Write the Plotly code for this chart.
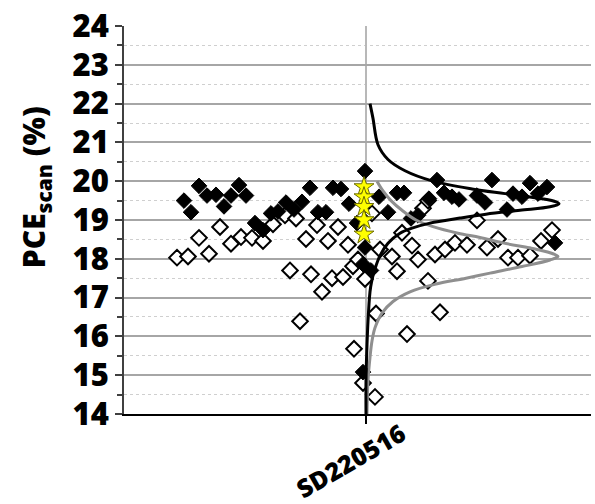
import plotly.graph_objects as go

# Sample label on the category axis
category = "SD220516"

# Horizontal jitter of each cell (offset from the category centre) and PCE values (%)
filled_x = [-1.82, -1.75, -1.67, -1.59, -1.50, -1.42, -1.35, -1.27, -1.20, -1.11,
            -1.03, -0.95, -0.88, -0.80, -0.72, -0.64, -0.56, -0.48, -0.40, -0.33,
            -0.25, -0.17, -0.09, -0.01, -0.01, 0.05, -0.03, -0.03, 0.13, 0.22,
            0.31, 0.38, 0.45, 0.52, 0.63, 0.71, 0.78, 0.86, 0.93, 1.11,
            1.19, 1.26, 1.41, 1.47, 1.56, 1.64, 1.72, 1.81, 1.89]
filled_pce = [19.50, 19.20, 19.88, 19.63, 19.65, 19.35, 19.63, 19.90, 19.63, 18.92,
              18.74, 19.17, 19.22, 19.45, 19.27, 19.47, 19.83, 19.20, 19.20, 19.83,
              19.80, 19.42, 18.92, 20.26, 18.29, 17.70, 15.08, 17.86, 19.60, 19.20,
              19.70, 19.70, 19.04, 19.12, 19.55, 20.03, 19.70, 19.60, 19.53, 19.63,
              19.45, 20.03, 19.27, 19.68, 19.60, 19.95, 19.68, 19.85, 18.41]

open_x = [-1.89, -1.78, -1.67, -1.57, -1.46, -1.35, -1.25, -1.14, -1.03, -0.93,
          -0.81, -0.70, -0.76, -0.60, -0.55, -0.49, -0.44, -0.38, -0.34, -0.28,
          -0.23, -0.18, -0.13, -0.08, -0.01, 0.06, 0.14, 0.26, 0.31, 0.36,
          0.46, 0.52, 0.57, 0.62, 0.62, 0.69, 0.79, 0.89, 1.01, 1.11,
          1.21, 1.32, 1.42, 1.52, 1.64, 1.75, 1.86, -0.66, 0.10, 0.74,
          0.41, -0.12, -0.03, 0.09]
open_pce = [18.03, 18.06, 18.54, 18.13, 18.82, 18.39, 18.56, 18.54, 18.46, 18.89,
            19.12, 19.04, 17.70, 18.51, 17.60, 18.87, 17.15, 18.46, 17.50, 18.82,
            17.53, 18.36, 17.81, 17.98, 17.48, 19.17, 18.24, 18.06, 17.68, 18.67,
            18.34, 17.98, 19.30, 19.50, 17.43, 18.11, 18.24, 18.41, 18.36, 18.99,
            18.29, 18.51, 18.03, 18.03, 18.08, 18.46, 18.74, 16.39, 16.59, 16.62,
            16.06, 15.68, 14.80, 14.44]

star_x = [-0.02, -0.02, -0.02, -0.02, -0.02]
star_pce = [19.85, 19.59, 19.34, 19.00, 18.63]

# Distribution envelopes (width from the category centre vs. PCE)
black_pce = [22.0, 21.62, 20.94, 20.56, 20.27, 20.01, 19.80, 19.68, 19.55, 19.47,
             19.42, 19.34, 19.25, 19.15, 19.05, 18.92, 18.79, 18.66, 18.40, 18.08,
             17.74, 17.40, 17.15, 16.39, 15.55, 14.87, 14.0]
black_w = [0.04, 0.07, 0.12, 0.22, 0.39, 0.66, 1.06, 1.39, 1.76, 1.90,
           1.93, 1.84, 1.54, 1.20, 0.94, 0.64, 0.46, 0.34, 0.22, 0.14,
           0.09, 0.055, 0.04, 0.02, 0.007, 0.0, 0.0]

gray_pce = [20.0, 19.75, 19.5, 19.25, 19.0, 18.83, 18.66, 18.55, 18.41, 18.24,
            18.13, 18.06, 17.97, 17.80, 17.63, 17.50, 17.35, 17.15, 16.9, 16.6,
            16.22, 15.88, 15.46, 14.87, 14.0]
gray_w = [0.11, 0.17, 0.25, 0.36, 0.50, 0.67, 0.92, 1.14, 1.37, 1.71,
          1.87, 1.92, 1.84, 1.56, 1.24, 1.00, 0.70, 0.44, 0.27, 0.16,
          0.09, 0.06, 0.04, 0.02, 0.01]

y_ticks = list(range(14, 25))

FONT = "Open Sans"

fig = go.Figure()

fig.add_trace(go.Scatter(
    x=open_x, y=open_pce, mode="markers",
    marker=dict(symbol="diamond", size=12, color="white",
                line=dict(color="black", width=2)),
    showlegend=False, hoverinfo="skip"))

fig.add_trace(go.Scatter(
    x=filled_x, y=filled_pce, mode="markers",
    marker=dict(symbol="diamond", size=12, color="black",
                line=dict(color="black", width=1)),
    showlegend=False, hoverinfo="skip"))

fig.add_trace(go.Scatter(
    x=gray_w, y=gray_pce, mode="lines",
    line=dict(color="#8f8f8f", width=3, shape="spline", smoothing=1.0),
    showlegend=False, hoverinfo="skip"))

fig.add_trace(go.Scatter(
    x=black_w, y=black_pce, mode="lines",
    line=dict(color="black", width=3, shape="spline", smoothing=1.0),
    showlegend=False, hoverinfo="skip"))

fig.add_trace(go.Scatter(
    x=star_x, y=star_pce, mode="markers",
    marker=dict(symbol="star", size=15, color="#ffff00",
                line=dict(color="#6b6b00", width=1)),
    showlegend=False, hoverinfo="skip"))

fig.update_layout(
    width=595, height=504,
    margin=dict(l=124, r=4, t=19, b=90),
    paper_bgcolor="white", plot_bgcolor="white",
    font=dict(family=FONT, color="black"),
    xaxis=dict(
        range=[-2.42, 2.25], tickvals=[0], ticktext=[category],
        showticklabels=False, ticks="outside", ticklen=8, tickwidth=1.5,
        tickcolor="black", showline=True, linecolor="black", linewidth=2,
        showgrid=True, gridcolor="#b8b8b8", gridwidth=1.5, zeroline=False,
    ),
    yaxis=dict(
        range=[13.9995, 24.0005], tickvals=y_ticks, ticks="outside", ticklen=7,
        tickwidth=1.5, tickcolor="#404040", showline=True,
        linecolor="#404040", linewidth=2, showgrid=True,
        gridcolor="#a6a6a6", gridwidth=1.5, zeroline=False,
        tickfont=dict(family=FONT, size=31, weight=800, color="black"),
        ticklabelstandoff=0, ticklabeloverflow="allow",
        minor=dict(dtick=0.5, ticks="outside", ticklen=5, tickcolor="#404040",
                   showgrid=True, gridcolor="#cfcfcf", gridwidth=1,
                   griddash="3px,3px"),
    ),
    annotations=[
        dict(text="PCE<sub>scan</sub> (%)", xref="paper", yref="paper",
             x=-0.19, y=0.585, textangle=-90, showarrow=False,
             xanchor="center", yanchor="middle",
             font=dict(family=FONT, size=30, weight=800, color="black")),
        dict(text=category, xref="paper", yref="paper",
             x=0.486, y=-0.118, textangle=-30, showarrow=False,
             xanchor="center", yanchor="middle",
             font=dict(family=FONT, size=25, weight=800, color="black")),
    ],
)

fig.write_html("out.html")
